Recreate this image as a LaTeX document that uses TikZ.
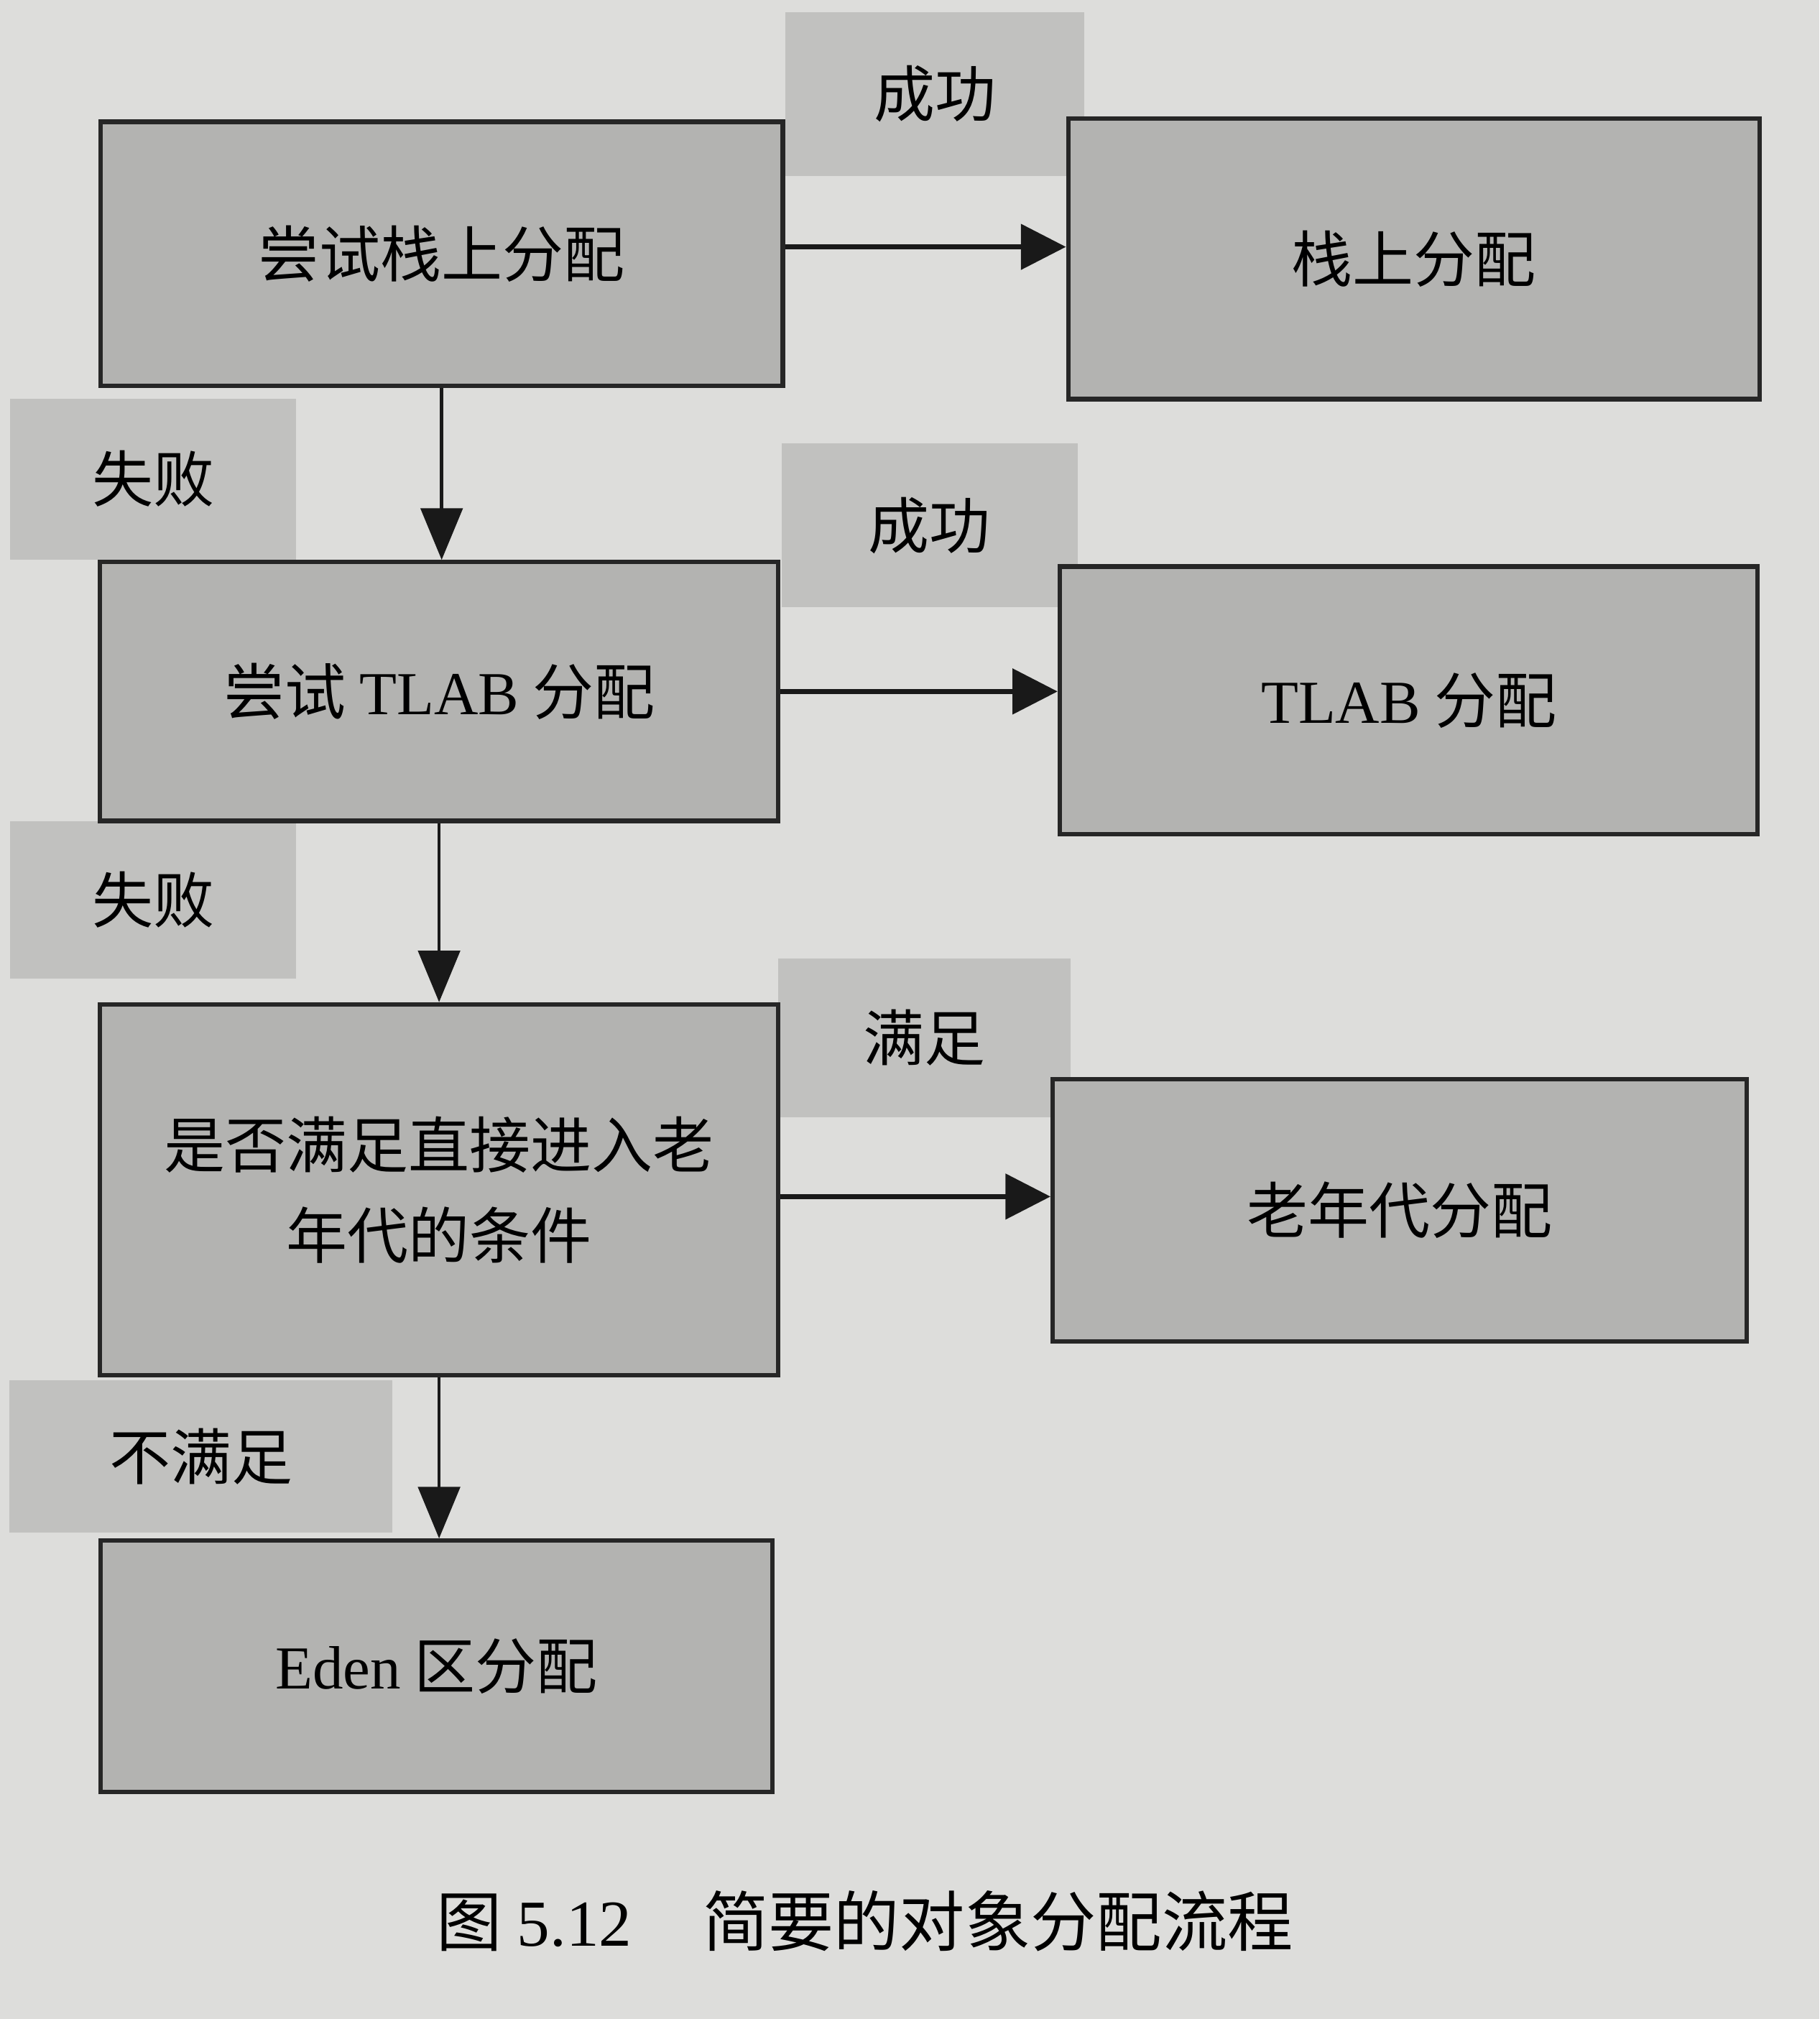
\documentclass[tikz,border=0pt]{standalone}
\usepackage{fontspec}
\setmainfont{Noto Sans CJK SC}
\newfontfamily\latin{Liberation Serif}
\usetikzlibrary{arrows.meta,positioning,calc}
\definecolor{paper}{HTML}{DDDDDB}
\definecolor{boxgray}{HTML}{B3B3B1}
\definecolor{taggray}{HTML}{C1C1BF}

\begin{document}
\begin{tikzpicture}[x=0.02cm,y=-0.02cm,
  stage/.style={draw=black!85,line width=2pt,fill=boxgray,align=center,
    inner sep=0pt,font=\fontsize{27}{40}\selectfont},
  tag/.style={fill=taggray,inner sep=0pt,font=\fontsize{27}{32}\selectfont},
  hflow/.style={-{Triangle[length=7mm,width=7mm]},line width=2pt,black!90},
  vflow/.style={-{Triangle[length=8mm,width=6.5mm]},line width=1.4pt,black!90}]
  \path[fill=paper] (0,0) rectangle (1413,1568);
  % condition labels (behind the boxes)
  \node[tag,minimum width=4.64cm,minimum height=2.54cm] (ok1) at (726,73) {成功};
  \node[tag,minimum width=4.44cm,minimum height=2.5cm] (fail1) at (119,372) {失败};
  \node[tag,minimum width=4.6cm,minimum height=2.54cm] (ok2) at (722,408) {成功};
  \node[tag,minimum width=4.44cm,minimum height=2.44cm] (fail2) at (119,699) {失败};
  \node[tag,minimum width=4.54cm,minimum height=2.46cm] (yes) at (718,806) {满足};
  \node[tag,minimum width=5.94cm,minimum height=2.36cm] (no) at (156,1131) {不满足};
  % steps
  \node[stage,minimum width=10.6cm,minimum height=4.1cm] (stacktry) at (343,197) {尝试栈上分配};
  \node[stage,minimum width=10.74cm,minimum height=4.36cm] (stack) at (1098,201) {栈上分配};
  \node[stage,minimum width=10.54cm,minimum height=4.02cm] (tlabtry) at (341,537) {尝试 {\latin TLAB} 分配};
  \node[stage,minimum width=10.84cm,minimum height=4.16cm] (tlab) at (1094,544) {{\latin TLAB} 分配};
  \node[stage,minimum width=10.54cm,minimum height=5.76cm] (check) at (341,924) {是否满足直接进入老\\年代的条件};
  \node[stage,minimum width=10.78cm,minimum height=4.08cm] (old) at (1087,940) {老年代分配};
  \node[stage,minimum width=10.44cm,minimum height=3.9cm] (eden) at (339,1294) {{\latin Eden} 区分配};
  % arrows
  \draw[hflow] ([yshift=3pt]stacktry.east) -- ([yshift=3pt]stacktry.east -| stack.west);
  \draw[hflow] (tlabtry.east) -- (tlabtry.east -| tlab.west);
  \draw[hflow] ([yshift=-3pt]check.east) -- ([yshift=-3pt]check.east -| old.west);
  \draw[vflow] (stacktry.south) -- (stacktry.south |- tlabtry.north);
  \draw[vflow] (tlabtry.south) -- (tlabtry.south |- check.north);
  \draw[vflow] (check.south) -- (check.south |- eden.north);
  % caption
  \node[font=\fontsize{29}{34}\selectfont,anchor=west] (caption) at (333,1492)
    {图 {\latin 5.12}\hspace{1.1cm}简要的对象分配流程};
\end{tikzpicture}
\end{document}
